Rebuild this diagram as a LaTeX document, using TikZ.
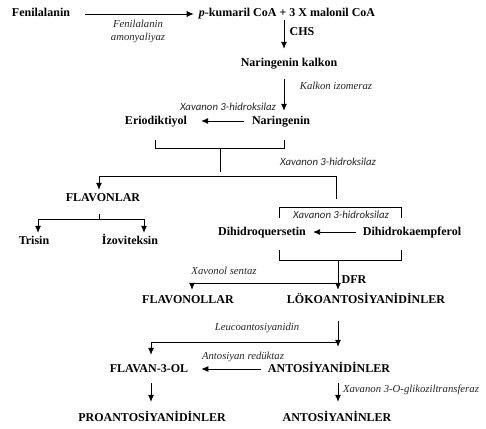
\documentclass[tikz,border=0pt]{standalone}
\usepackage{fontspec}
\setmainfont{Liberation Serif}
\newfontfamily\calfont{Carlito}
\usetikzlibrary{arrows.meta, positioning, calc}

\tikzset{
  comp/.style={font=\fontsize{12}{14}\selectfont\bfseries, inner sep=1pt, text height=8pt, text depth=2pt},
  enz/.style={font=\fontsize{10.7}{13}\selectfont\itshape, inner sep=1pt, text=black!85},
  enzc/.style={enz, font=\calfont\fontsize{10.8}{13}\selectfont\itshape},
  arr/.style={-{Latex[length=7pt,width=6pt]}, line width=0.8pt},
  ln/.style={line width=0.8pt},
}

\begin{document}
\begin{tikzpicture}[x=1pt,y=-1pt]
\useasboundingbox (0,0) rectangle (486,428);
% axes of the vertical arrows
\coordinate (ax) at (284,0);
\coordinate (bx) at (338,0);
\coordinate (lx) at (151,0);

% compounds
\node[comp] (fen) at (41,14) {Fenilalanin};
\node[comp] (kum) at (287,14) {\textit{p}-kumaril CoA + 3 X malonil CoA};
\node[comp] (kalkon) at (289,63) {Naringenin kalkon};
\node[comp] (erio) at (156,121) {Eriodiktiyol};
\node[comp] (nar) at (281,121) {Naringenin};
\node[comp] (flavon) at (103,198) {FLAVONLAR};
\node[comp] (trisin) at (34,241) {Trisin};
\node[comp] (izo) at (130,241) {İzoviteksin};
\node[comp] (dihq) at (262,232) {Dihidroquersetin};
\node[comp] (dihk) at (412,232) {Dihidrokaempferol};
\node[comp] (flavonol) at (188,300) {FLAVONOLLAR};
\node[comp] (loko) at (366,300) {LÖKOANTOSİYANİDİNLER};
\node[comp] (flavan) at (149,369) {FLAVAN-3-OL};
\node[comp] (antd) at (329,369) {ANTOSİYANİDİNLER};
\node[comp] (proant) at (152,418) {PROANTOSİYANİDİNLER};
\node[comp] (antn) at (337,418) {ANTOSİYANİNLER};

% enzymes
\node[enz, align=center] (pal) at (138,31.5) {Fenilalanin\\amonyaliyaz};
\node[comp] (chs) at (302,32) {CHS};
\node[enz] (chi) at (336,86) {Kalkon izomeraz};
\node[enzc] (f3ha) at (228,107) {Xavanon 3-hidroksilaz};
\node[enzc] (f3hb) at (328,162) {Xavanon 3-hidroksilaz};
\node[enzc] (f3hc) at (341,215) {Xavanon 3-hidroksilaz};
\node[enz] (fls) at (224,271) {Xavonol sentaz};
\node[comp] (dfr) at (354,280) {DFR};
\node[enz] (lar) at (257,328) {Leucoantosiyanidin};
\node[enz] (anr) at (243,357) {Antosiyan redüktaz};
\node[enz] (ufgt) at (411,390) {Xavanon 3-O-glikoziltransferaz};

% upper pathway
\draw[arr, shorten <=14pt, shorten >=4pt] (fen) -- (kum);
\draw[arr, shorten >=8pt] (kum.south -| ax) -- (kalkon.north -| ax);
\draw[arr, shorten <=10pt, shorten >=4pt] (kalkon.south -| ax) -- (nar.north -| ax);
\draw[arr, shorten <=7pt, shorten >=13pt] (nar) -- (erio);

% bracket and split
\coordinate (eb) at (155,140);
\coordinate (nb) at (284,140);
\draw[ln] (eb) -- ++(0,8) -| (nb);
\coordinate (stem) at (220,148);
\draw[ln] (stem) -- ++(0,24);
\coordinate (fl) at (99,176);
\coordinate (fr) at (336,176);
\draw[arr, shorten >=2pt] (fr) -| (flavon.north -| fl);
\draw[ln] (fr) -- ++(0,23);

% flavones
\coordinate (fs) at (99,219);
\draw[ln] (fs) -- ++(0,-5);
\draw[arr, shorten >=2pt] (fs) -| ([xshift=4pt]trisin.north);
\draw[arr, shorten >=2pt] (fs) -| ([xshift=14pt]izo.north);

% dihydroflavonols
\coordinate (qt) at (279,218);
\coordinate (kt) at (401,218);
\draw[ln] (qt) -- ++(0,-11) -| (kt);
\draw[arr, shorten <=6pt, shorten >=6pt] (dihk) -- (dihq);
\coordinate (qb) at (279,250);
\coordinate (kb) at (401,250);
\draw[ln] (qb) -- ++(0,10) -| (kb);
\coordinate (dfrs) at (338,260);
\draw[arr, shorten >=4pt] (dfrs) -- (loko.north -| bx);
\draw[arr, shorten >=4pt] ($(dfrs)+(0,23)$) -| ([xshift=4pt]flavonol.north);

% lower pathway
\draw[arr, shorten <=15pt, shorten >=16pt] (loko.south -| bx) -- (antd.north -| bx);
\coordinate (lb) at (338,342);
\draw[arr, shorten >=8pt] (lb) -| (flavan.north -| lx);
\draw[arr, shorten <=6pt, shorten >=12pt] (antd) -- (flavan);
\draw[arr, shorten <=8pt, shorten >=10pt] (flavan.south -| lx) -- (proant.north -| lx);
\draw[arr, shorten <=8pt, shorten >=10pt] (antd.south -| bx) -- (antn.north -| bx);
\end{tikzpicture}
\end{document}
